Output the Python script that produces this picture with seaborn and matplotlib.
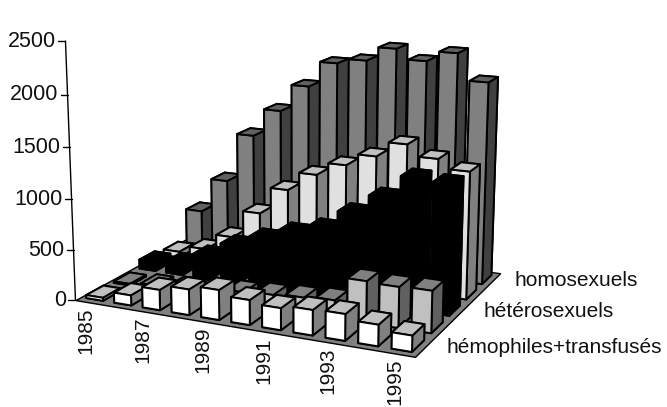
import numpy as np
import matplotlib
matplotlib.use('Agg')
import matplotlib.pyplot as plt
from mpl_toolkits.mplot3d.art3d import Poly3DCollection
import seaborn as sns

# valeurs
years = [1985, 1986, 1987, 1988, 1989, 1990, 1991, 1992, 1993, 1994, 1995]
hemophiles = [30, 100, 200, 250, 290, 240, 210, 240, 250, 200, 150]
serie2 = [15, 40, 60, 90, 110, 130, 150, 170, 400, 390, 400]
heteros = [95, 120, 240, 390, 500, 600, 680, 870, 1060, 1280, 1260]
serie4 = [60, 130, 300, 590, 870, 1060, 1190, 1310, 1460, 1350, 1260]
homos = [370, 740, 1260, 1550, 1830, 2090, 2140, 2280, 2180, 2280, 2020]
series = [hemophiles, serie2, heteros, serie4, homos]
series_labels = {0: 'hémophiles+transfusés', 2: 'hétérosexuels', 4: 'homosexuels'}
zticks = [0, 500, 1000, 1500, 2000, 2500]

# couleurs : devant, dessus, cote
front_colors = ['#ffffff', '#c0c0c0', '#000000', '#e0e0e0', '#808080']
top_colors = ['#c0c0c0', '#808080', '#000000', '#c0c0c0', '#606060']
side_colors = ['#808080', '#606060', '#000000', '#808080', '#404040']

W, H = 667, 407
XMAX, YMAX, ZMAX = len(years), len(series), zticks[-1]

sns.set_theme(style='white')
plt.rcParams['font.family'] = ['Liberation Sans', 'DejaVu Sans']

# coins de la boite -> pixels de l'image, pour caler la perspective
corners = [(0, 0, 0, 75, 300), (XMAX, 0, 0, 415, 357), (XMAX, YMAX, 0, 500, 273),
           (0, YMAX, 0, 200, 232), (0, 0, ZMAX, 66, 41), (0, YMAX, ZMAX, 195, 7),
           (XMAX, YMAX, ZMAX, 509, 27)]
rows = []
for x, y, z, u, v in corners:
    p = [x / XMAX, y / YMAX, z / ZMAX, 1]
    rows.append(p + [0, 0, 0, 0] + [-u * c for c in p])
    rows.append([0, 0, 0, 0] + p + [-v * c for c in p])
P = np.linalg.svd(np.array(rows, dtype=float))[2][-1].reshape(3, 4)
P = P @ np.diag([1 / XMAX, 1 / YMAX, 1 / ZMAX, 1])
P = P / P[2, 3]


def to_pixel(x, y, z):
    u, v, w = P @ np.array([x, y, z, 1.0])
    return u / w, v / w


fig = plt.figure(figsize=(W / 100, H / 100), dpi=100)
# axes carres qui couvrent toute la figure
ax = fig.add_axes([0, -(W - H) / 2 / H, 1, W / H], projection='3d', computed_zorder=False)
ax.set_axis_off()


def fitted_proj():
    inv = ax.transData.inverted()
    o = inv.transform((0, H))
    ex = inv.transform((1, H)) - o
    ey = inv.transform((0, H - 1)) - o
    A = np.array([[ex[0], ey[0], o[0]], [ex[1], ey[1], o[1]], [0, 0, 1]])
    Q = A @ P
    depth = [-0.5 / XMAX, 1 / YMAX, -0.5 / ZMAX, 0]
    return np.array([Q[0], Q[1], depth, Q[2]])


ax.get_proj = fitted_proj

# sol et murs
floor = Poly3DCollection([[(0, 0, 0), (XMAX, 0, 0), (XMAX, YMAX, 0), (0, YMAX, 0)]],
                         facecolor='#808080', edgecolor='black', linewidth=1.0, zorder=1)
ax.add_collection3d(floor)
ax.plot([0, 0, 0, XMAX, XMAX], [0, YMAX, YMAX, YMAX, YMAX], [ZMAX, ZMAX, ZMAX, ZMAX, 0],
        color='black', lw=1.0, zorder=2)
ax.plot([0, 0], [0, 0], [0, ZMAX], color='black', lw=1.0, zorder=2)
ax.plot([0, 0], [YMAX, YMAX], [0, ZMAX], color='black', lw=1.0, zorder=2)

# barres, du fond vers l'avant
order = 3
bar_w = 0.6
bar_d = 0.62
for j in reversed(range(len(series))):
    for i, h in enumerate(series[j]):
        c = [top_colors[j], top_colors[j], front_colors[j], front_colors[j], side_colors[j], side_colors[j]]
        ax.bar3d(i + (1 - bar_w) / 2, j + (1 - bar_d) / 2, 0, bar_w, bar_d, h, color=c,
                 edgecolor='black', linewidth=1.4, shade=False, zorder=order)
        order += 1

# graduations et textes
for t in zticks:
    u, v = to_pixel(0, 0, t)
    fig.add_artist(plt.Line2D([(u - 7) / W, u / W], [1 - v / H, 1 - v / H], color='black', lw=1.0))
    fig.text((u - 9) / W, 1 - v / H, str(t), ha='right', va='center', fontsize=15.5, color='#111111')
for i, yr in enumerate(years):
    if i % 2 == 0:
        u, v = to_pixel(i + 0.5, 0, 0)
        fig.text((u - 3) / W, 1 - (v + 5) / H, str(yr), rotation=90, ha='center', va='top',
                 fontsize=15, color='#111111')
for j, lab in series_labels.items():
    u, v = to_pixel(XMAX, j + 0.5, 0)
    fig.text((u + 22) / W, 1 - v / H, lab, ha='left', va='center', fontsize=15, color='#111111')

fig.savefig('out.png', dpi=100)
